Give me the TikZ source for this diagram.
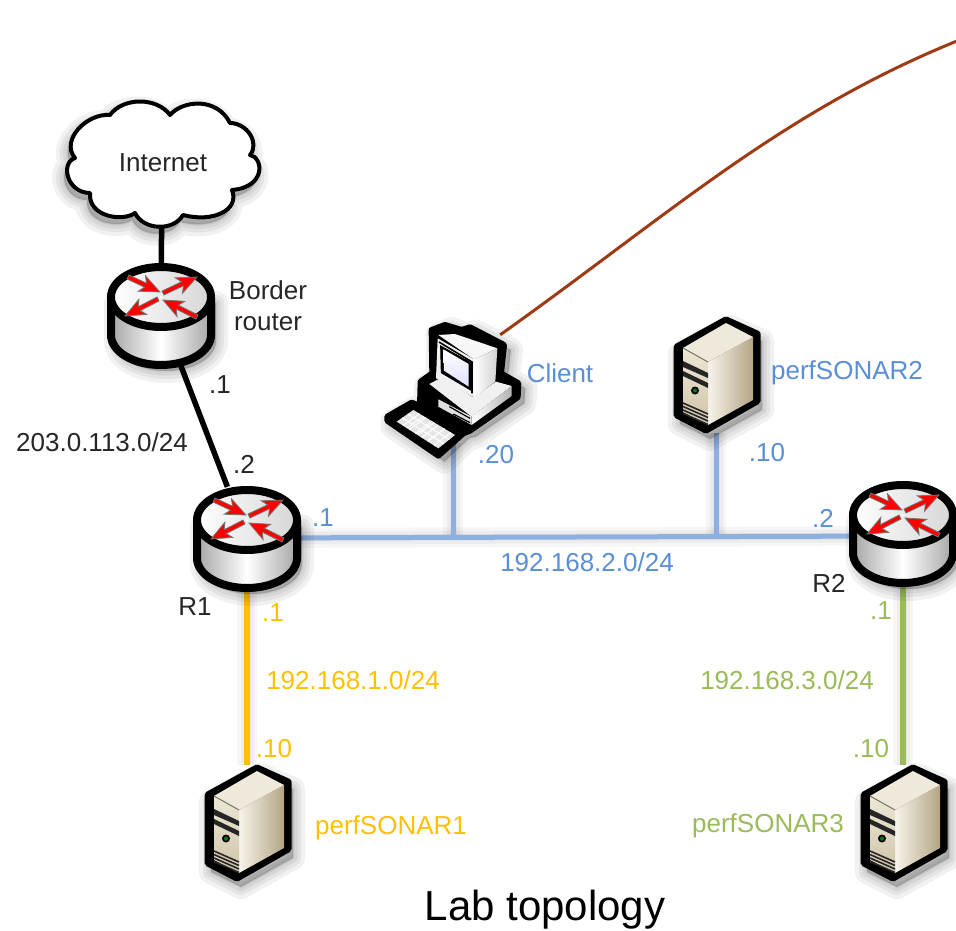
\documentclass[tikz,border=0pt]{standalone}
\usepackage{fontspec}
\setmainfont{Liberation Sans}
\definecolor{bluetxt}{HTML}{5B8FD5}
\definecolor{blueln}{HTML}{8DB0E0}
\definecolor{orangec}{HTML}{FFC000}
\definecolor{greentxt}{HTML}{9BBB59}
\definecolor{brownln}{HTML}{9E3A14}
\definecolor{darktxt}{HTML}{262626}
\definecolor{srvtop}{HTML}{EFE9DB}
\definecolor{srvfrontA}{HTML}{EDE7D6}
\definecolor{srvfrontB}{HTML}{CFC4A8}
\definecolor{srvsideA}{HTML}{F7F3EA}
\definecolor{srvsideB}{HTML}{B3A584}
\tikzset{
  txt/.style={inner sep=0pt,text=darktxt,font=\fontsize{26}{31}\selectfont,align=center},
  btxt/.style={txt,text=bluetxt},
  otxt/.style={txt,text=orangec},
  gtxt/.style={txt,text=greentxt},
  routerbox/.style={inner sep=0pt,minimum width=108pt,minimum height=102pt},
  serverbox/.style={inner sep=0pt,minimum width=86pt,minimum height=116pt},
  blackline/.style={draw=black,line width=5.5pt},
  blueline/.style={draw=blueln,line width=5pt},
  orangeline/.style={draw=orangec,line width=6pt},
  greenline/.style={draw=greentxt,line width=6pt},
  brownline/.style={draw=brownln,line width=3pt},
  outlined/.style={draw=black,line width=7pt,line join=round},
  redarrow/.style={fill=red,draw=black!55,line width=.8pt,line join=miter}
}
\newcommand{\softshadow}[3]{%
  \foreach \w in {24,16,9,3}{%
    \path[fill=black,draw=black,opacity=.055,line width=\w pt,xshift=#1,yshift=#2,line join=round] #3;}}
\newcommand{\lineshadow}[1]{%
  \foreach \w in {20,13,7}{%
    \path[draw=black,opacity=.035,line width=\w pt,xshift=8pt,yshift=-10pt] #1;}}
% arrow polygon from (a,b) to (c,d)
\newcommand{\redarrowshape}[4]{%
  \pgfmathsetmacro{\len}{veclen(#3-#1,#4-#2)}%
  \pgfmathsetmacro{\ux}{(#3-#1)/\len}%
  \pgfmathsetmacro{\uy}{(#4-#2)/\len}%
  \path[redarrow]
    ({#1-2.2*\uy},{#2+2.2*\ux}) --
    ({#3-16*\ux-2.2*\uy},{#4-16*\uy+2.2*\ux}) --
    ({#3-20*\ux-8.5*\uy},{#4-20*\uy+8.5*\ux}) --
    (#3,#4) --
    ({#3-20*\ux+8.5*\uy},{#4-20*\uy-8.5*\ux}) --
    ({#3-16*\ux+2.2*\uy},{#4-16*\uy-2.2*\ux}) --
    ({#1+2.2*\uy},{#2-2.2*\ux}) -- cycle;}
\newcommand{\routericon}[2]{%
  \begin{scope}[shift={(#1.center)},yshift=#2]
    \softshadow{5pt}{-6pt}{(-50,0) -- (-50,38) .. controls (-50,54.6) and (-27.6,68) .. (0,68) .. controls (27.6,68) and (50,54.6) .. (50,38) -- (50,0) -- cycle}
    \path[draw=black,line width=8pt,line join=round,left color=black!35,right color=black!35,middle color=white]
      (-50,0) -- (-50,38) .. controls (-50,54.6) and (-27.6,68) .. (0,68) .. controls (27.6,68) and (50,54.6) .. (50,38) -- (50,0) -- cycle;
    \path[draw=black,line width=8pt,left color=white,right color=black!16] (0,0) circle[x radius=50pt,y radius=30pt];
    \redarrowshape{-33}{-20}{-1}{-5}
    \redarrowshape{2}{-4}{36}{-20}
    \redarrowshape{-3}{2}{-36}{19}
    \redarrowshape{36}{20}{2}{3}
    \fill[white] (0,0) circle[radius=1.6pt];
  \end{scope}}
\newcommand{\servericon}[1]{%
  \begin{scope}[shift={(#1.center)}]
    \softshadow{4pt}{-8pt}{(10,-56) -- (42,-42) -- (42,27) -- (-10,56) -- (-40,41) -- (-40,-29) -- cycle}
    \path[fill=black,outlined] (10,-55) -- (41,-41) -- (41,26) -- (-10,55) -- (-39,40) -- (-39,-28) -- cycle;
    \path[left color=srvsideA,right color=srvsideB] (-8,-13) -- (37,-38) -- (37,25) -- (-8,50) -- cycle;
    \fill[srvtop] (-33,-27) -- (10,-52) -- (37,-38) -- (-8,-13) -- cycle;
    \path[top color=srvfrontA,bottom color=srvfrontB] (-33,-27) -- (-8,-13) -- (-8,50) -- (-33,37) -- cycle;
    \draw[srvsideB!70!black,line width=1pt] (-33,-27) -- (-8,-13);
    \fill[black!85] (-33,-14) -- (-8,-2) -- (-8,3) -- (-33,-8) -- cycle;
    \fill[black!85] (-33,-4) -- (-8,8) -- (-8,13) -- (-33,1) -- cycle;
    \fill[black] (-21,15.5) circle[radius=4pt];
    \fill[green!50!black] (-21,15.5) circle[radius=2pt];
    \foreach \k in {0,3.5,7,10.5}{%
      \draw[black!85,line width=1.6pt] (-33,{28+\k}) -- (-8,{39+\k});}
  \end{scope}}
\newcommand{\clienticon}[1]{%
  \begin{scope}[shift={(#1.center)},x=.3333pt,y=-.3333pt,xshift=-83pt,yshift=79pt]
    \softshadow{6pt}{-5pt}{(185,60) -- (225,42) -- (275,60) -- (300,50) -- (405,105) -- (395,190) -- (448,220) -- (445,265) -- (300,365) -- (280,370) -- (205,440) -- (50,335) -- (50,320) -- (125,275) -- (150,285) -- (150,215) -- (185,190) -- cycle}
    \path[fill=black,draw=black,line width=6pt,line join=round]
      (185,60) -- (225,45) -- (275,60) -- (300,52) -- (402,105) -- (393,190) -- (445,220) -- (443,262) -- (300,362) -- (280,370) -- (205,437) -- (52,332) -- (52,320) -- (125,278) -- (150,288) -- (152,215) -- (187,190) -- cycle;
    % base
    \fill[white!94!black] (178,222) -- (210,205) -- (310,262) -- (378,215) -- (425,228) -- (305,320) -- cycle;
    \path[left color=white,right color=black!30] (305,320) -- (425,228) -- (425,258) -- (305,345) -- cycle;
    \fill[black!12] (205,268) -- (305,320) -- (305,345) -- (205,290) -- cycle;
    \draw[black,line width=1.2pt] (238,290) -- (300,325) (250,312) -- (300,338);
    % monitor
    \fill[white!97!black] (205,75) -- (255,72) -- (382,115) -- (312,148) -- cycle;
    \path[left color=white,right color=black!18] (312,148) -- (382,115) -- (376,215) -- (312,262) -- cycle;
    \fill[black!6] (203,85) -- (312,148) -- (312,262) -- (198,205) -- cycle;
    \draw[black,line width=1.6pt] (207,96) -- (306,156) -- (306,250);
    \path[fill=black,draw=black,line width=1pt] (212,108) -- (302,158) -- (302,240) -- (214,188) -- cycle;
    \path[top color=white,bottom color=blue!12] (220,118) -- (296,162) -- (296,230) -- (222,182) -- cycle;
    % keyboard
    \fill[black!10] (80,335) -- (130,300) -- (255,375) -- (205,415) -- cycle;
    \foreach \t in {0.25,0.5,0.75}{%
      \draw[white,line width=1pt] ({80+\t*125},{335+\t*80*.94}) -- ({130+\t*125},{300+\t*75});}
    \foreach \t in {0.15,0.3,0.45,0.6,0.75,0.9}{%
      \draw[white,line width=1pt] ({80+\t*125},{335+\t*80}) -- ({130+\t*125},{300+\t*75});}
    \foreach \t in {0.33,0.66}{%
      \draw[white,line width=1pt] ({80+\t*50},{335-\t*35}) -- ({205+\t*50},{415-\t*40});}
  \end{scope}}
\begin{document}
\begin{tikzpicture}[x=1pt,y=-1pt]
  \useasboundingbox (0,0) rectangle (956,931);
  \clip (0,0) rectangle (956,931);
  \fill[white] (0,0) rectangle (956,931);
  % anchor nodes
  \node[inner sep=0pt,minimum width=190pt,minimum height=129pt] (inet) at (162,163) {};
  \node[routerbox] (br) at (161,314) {};
  \node[routerbox] (r1) at (247,538) {};
  \node[routerbox] (r2) at (903,536) {};
  \node[serverbox] (ps1) at (247,823) {};
  \node[serverbox] (ps2) at (716,375) {};
  \node[serverbox] (ps3) at (903,823) {};
  \node[inner sep=0pt,minimum width=94pt,minimum height=108pt] (client) at (453,389) {};
  \coordinate (j1) at (453,538);
  \coordinate (j2) at (716,537);
  \coordinate (far) at (957,41);
  % connector shadows
  \lineshadow{(r1) -- (r2)}
  \lineshadow{(client) -- (j1)}
  \lineshadow{(ps2) -- (j2)}
  \lineshadow{(r1) -- (ps1)}
  \lineshadow{(r2) -- (ps3)}
  % connectors
  \draw[blackline] (inet) -- (br);
  \draw[blackline] (br) -- (r1);
  \draw[blueline] (r1) -- (r2);
  \draw[blueline] (client) -- (j1);
  \draw[blueline] (ps2) -- (j2);
  \draw[orangeline] (r1) -- (ps1);
  \draw[greenline] (r2) -- (ps3);
  \draw[brownline] (client.north east) .. controls (670,214) and (780,113) .. (far);
  % cloud
  \softshadow{-3pt}{-7pt}{(170,115) .. controls (157,97) and (123,97) .. (110,115) .. controls (87,113) and (60,140) .. (75,158) .. controls (60,163) and (67,193) .. (90,193) .. controls (88,217) and (123,222) .. (135,213) .. controls (143,230) and (173,232) .. (183,215) .. controls (213,223) and (240,210) .. (232,190) .. controls (267,187) and (263,157) .. (250,155) .. controls (260,143) and (247,123) .. (230,123) .. controls (217,97) and (183,100) .. (170,115) -- cycle}
  \path[fill=white,draw=black,line width=4pt,line join=round] (170,115) .. controls (157,97) and (123,97) .. (110,115) .. controls (87,113) and (60,140) .. (75,158) .. controls (60,163) and (67,193) .. (90,193) .. controls (88,217) and (123,222) .. (135,213) .. controls (143,230) and (173,232) .. (183,215) .. controls (213,223) and (240,210) .. (232,190) .. controls (267,187) and (263,157) .. (250,155) .. controls (260,143) and (247,123) .. (230,123) .. controls (217,97) and (183,100) .. (170,115) -- cycle;
  % icons
  \routericon{br}{17pt}
  \routericon{r1}{18pt}
  \routericon{r2}{21pt}
  \servericon{ps1}
  \servericon{ps2}
  \servericon{ps3}
  \clienticon{client}
  % labels
  \node[txt] (tinet) at (163,163) {Internet};
  \node[txt] (tbr) at (268,306) {Border\\router};
  \node[txt] (t1) at (220,385) {.1};
  \node[txt] (tnet) at (102,442) {203.0.113.0/24};
  \node[txt] (t2) at (244,464) {.2};
  \node[btxt] (tb1) at (323,518) {.1};
  \node[txt] (tr1) at (195,607) {R1};
  \node[otxt] (to1) at (273,613) {.1};
  \node[otxt] (tonet) at (353,680) {192.168.1.0/24};
  \node[otxt] (to10) at (274,749) {.10};
  \node[otxt] (tps1) at (391,828) {perfSONAR1};
  \node[btxt] (tclient) at (560,373) {Client};
  \node[btxt] (t20) at (496,455) {.20};
  \node[btxt] (tps2) at (847,373) {perfSONAR2};
  \node[btxt] (t10) at (767,453) {.10};
  \node[btxt] (tb2) at (823,518) {.2};
  \node[btxt] (tbnet) at (587,562) {192.168.2.0/24};
  \node[txt] (tr2) at (829,583) {R2};
  \node[gtxt] (tg1) at (881,611) {.1};
  \node[gtxt] (tgnet) at (787,680) {192.168.3.0/24};
  \node[gtxt] (tg10) at (871,749) {.10};
  \node[gtxt] (tps3) at (768,826) {perfSONAR3};
  \node[txt,text=black,font=\fontsize{42}{48}\selectfont] (title) at (545,910) {Lab topology};
\end{tikzpicture}
\end{document}
